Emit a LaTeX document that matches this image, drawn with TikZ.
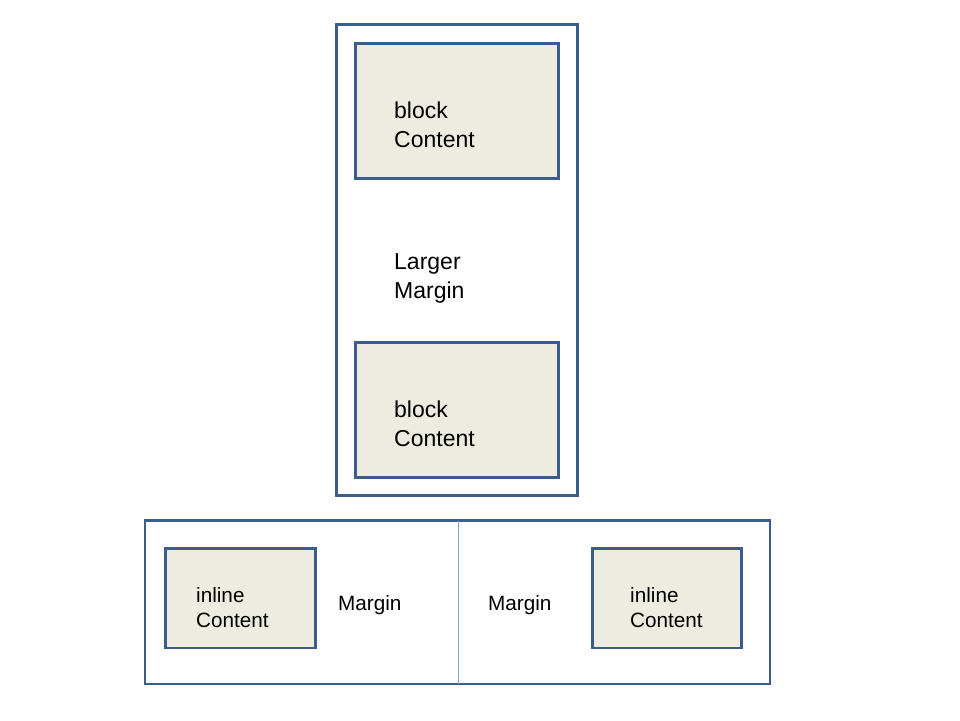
\documentclass[tikz,border=0pt]{standalone}
\usepackage{fontspec}
\setmainfont{Liberation Sans}
\definecolor{frame}{HTML}{3A5D8C}
\definecolor{boxfill}{HTML}{EEECE1}
\definecolor{divider}{HTML}{7F9FCF}
\begin{document}
\begin{tikzpicture}[x=1pt,y=-1pt,
  outerbox/.style={draw=frame,line width=2.6pt},
  contentbox/.style={draw=frame,line width=2.6pt,fill=boxfill},
  bigtext/.style={anchor=base west,inner sep=0pt,align=left,font=\fontsize{23}{29}\selectfont},
  smalltext/.style={anchor=base west,inner sep=0pt,align=left,font=\fontsize{20.7}{25}\selectfont}]
\useasboundingbox (0,0) rectangle (960,720);
% top container
\draw[outerbox] (336.5,24.5) rectangle (577.5,495.5);
\draw[contentbox] (355.5,43.5) rectangle (558.5,178.5);
\draw[contentbox] (355.5,342.5) rectangle (558.5,477.5);
\node[bigtext] (b1) at (394,147) {block\\Content};
\node[bigtext] (lm) at (394,298) {Larger\\Margin};
\node[bigtext] (b2) at (394,446) {block\\Content};
% bottom container
\draw[outerbox] (145,520.5) rectangle (770,684);
\draw[divider,line width=1pt] (458,520.5) -- (458,684);
\draw[contentbox] (165.5,548.5) rectangle (315.5,648);
\draw[contentbox] (592.5,548.5) rectangle (741.5,648);
\node[smalltext] (i1) at (196,627) {inline\\Content};
\node[smalltext] (m1) at (338,610) {Margin};
\node[smalltext] (m2) at (488,610) {Margin};
\node[smalltext] (i2) at (630,627) {inline\\Content};
\end{tikzpicture}
\end{document}
